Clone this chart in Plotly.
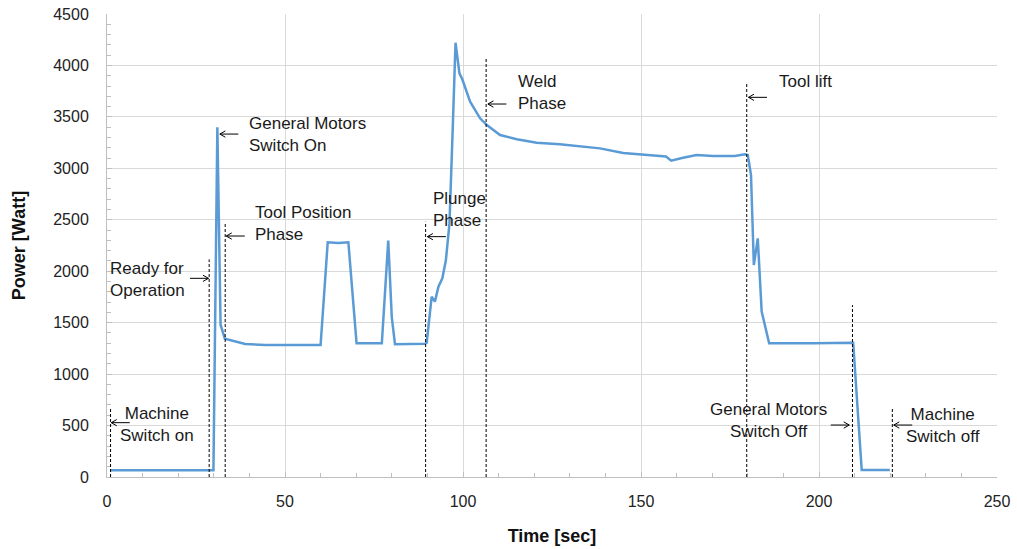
import plotly.graph_objects as go

# ---- data ----
time_s = [1.0, 29.9, 31.0, 31.9, 33.1, 35.5, 38.8, 44.4, 60.0, 62.0, 65.0, 67.8, 70.1,
          77.2, 79.0, 80.0, 80.9, 89.3, 89.8, 91.2, 92.1, 93.1, 94.2, 95.2, 96.2, 97.1,
          97.9, 99.0, 99.8, 102.0, 104.8, 106.7, 110.4, 115.1, 120.7, 127.2, 132.9,
          138.5, 145.0, 150.0, 157.0, 158.5, 160.0, 161.5, 165.6, 170.3, 176.4, 179.2,
          180.0, 180.9, 181.7, 182.8, 183.9, 186.0, 198.3, 205.0, 209.6, 212.0, 219.9]
power_w = [65, 65, 3400, 1480, 1345, 1320, 1292, 1283, 1283, 2281, 2275, 2281, 1300,
           1300, 2297, 1550, 1290, 1295, 1305, 1752, 1704, 1850, 1931, 2109, 2465, 3372,
           4221, 3923, 3865, 3648, 3486, 3421, 3324, 3282, 3249, 3233, 3216,
           3194, 3150, 3135, 3115, 3075, 3090, 3100, 3129, 3120, 3120, 3136,
           3130, 2935, 2060, 2319, 1607, 1299, 1299, 1305, 1305, 68, 68]

# vertical dotted event markers
marker_times = [1.0, 28.7, 33.2, 89.5, 106.5, 179.7, 209.4, 220.6]
marker_tops = [670, 2115, 2471, 2481, 4069, 3832, 1671, 667]

# event labels: text, x, y, anchor
label_texts = ["Machine<br>Switch on", "Ready for<br>Operation", "General Motors<br>Switch On",
               "Tool Position<br>Phase", "Plunge<br>Phase", "Weld<br>Phase", "Tool lift",
               "General Motors<br>Switch Off", "Machine<br>Switch off"]
label_x = [14.0, 0.3, 39.3, 41.0, 91.0, 114.9, 188.2, 185.7, 234.8]
label_y = [515, 1924, 3333, 2468, 2604, 3741, 3848, 554, 505]
label_anchor = ["center", "left", "left", "left", "left", "left", "left", "center", "center"]

# arrows: head position and pointing direction (-1 = points left, +1 = points right)
arrow_x = [1.2, 28.5, 31.7, 33.5, 90.0, 107.0, 180.2, 208.5, 221.0]
arrow_y = [528, 1931, 3333, 2342, 2336, 3625, 3690, 505, 505]
arrow_dir = [-1, 1, -1, -1, -1, -1, -1, 1, -1]

x_ticks = [0, 50, 100, 150, 200, 250]
y_ticks = [0, 500, 1000, 1500, 2000, 2500, 3000, 3500, 4000, 4500]

FONT = "Liberation Sans, Arial, sans-serif"

fig = go.Figure()
fig.add_trace(go.Scatter(x=time_s, y=power_w, mode="lines",
                         line=dict(color="#5b9bd5", width=2.5), showlegend=False))

for mx, mt in zip(marker_times, marker_tops):
    fig.add_shape(type="line", x0=mx, x1=mx, y0=0, y1=mt, xref="x", yref="y",
                  line=dict(color="#000000", width=1, dash="3px,2px"))

for t, lx, ly, anc in zip(label_texts, label_x, label_y, label_anchor):
    fig.add_annotation(x=lx, y=ly, text=t, showarrow=False, xanchor=anc, yanchor="middle",
                       align=anc, font=dict(family=FONT, size=17, color="#1a1a1a"))

SHAFT = 20
for hx, hy, d in zip(arrow_x, arrow_y, arrow_dir):
    back = -d  # tail is opposite to pointing direction
    fig.add_annotation(x=hx, y=hy, text="", showarrow=True, arrowhead=0, arrowwidth=1,
                       arrowcolor="#000000", ax=back * SHAFT, ay=0, standoff=0, startstandoff=0)
    for sgn in (-1, 1):
        fig.add_annotation(x=hx, y=hy, text="", showarrow=True, arrowhead=0, arrowwidth=1,
                           arrowcolor="#000000", ax=back * 7, ay=sgn * 4, standoff=0,
                           startstandoff=0)

fig.update_layout(
    width=1017, height=549,
    margin=dict(l=107, r=20, t=14, b=72),
    paper_bgcolor="white", plot_bgcolor="white",
    font=dict(family=FONT, size=16, color="#222222"),
)
fig.update_xaxes(
    range=[0, 250], tickvals=x_ticks, showgrid=True, gridcolor="#d9d9d9", gridwidth=1,
    showline=True, linecolor="#bfbfbf", linewidth=1, ticks="inside", ticklen=5,
    tickcolor="#bfbfbf", ticklabelstandoff=10, zeroline=False, automargin=False,
    ticklabeloverflow="allow",
    minor=dict(dtick=10, ticks="inside", ticklen=4, tickcolor="#bfbfbf", showgrid=False),
    title=dict(text="<b>Time [sec]</b>", font=dict(family=FONT, size=18, color="#111111"),
               standoff=20),
)
fig.update_yaxes(
    range=[0, 4500], tickvals=y_ticks, showgrid=True, gridcolor="#d9d9d9", gridwidth=1,
    showline=True, linecolor="#bfbfbf", linewidth=1, ticks="inside", ticklen=5,
    tickcolor="#bfbfbf", ticklabelstandoff=14, zeroline=False, automargin=False,
    ticklabeloverflow="allow",
    minor=dict(dtick=100, ticks="inside", ticklen=4, tickcolor="#bfbfbf", showgrid=False),
    title=dict(text="<b>Power [Watt]</b>", font=dict(family=FONT, size=18, color="#111111"),
               standoff=22),
)

# remove the default 8px page margin so the figure fills the window exactly
fig.write_html("out.html", config={"displayModeBar": False},
               post_script="document.body.style.margin='0';")
